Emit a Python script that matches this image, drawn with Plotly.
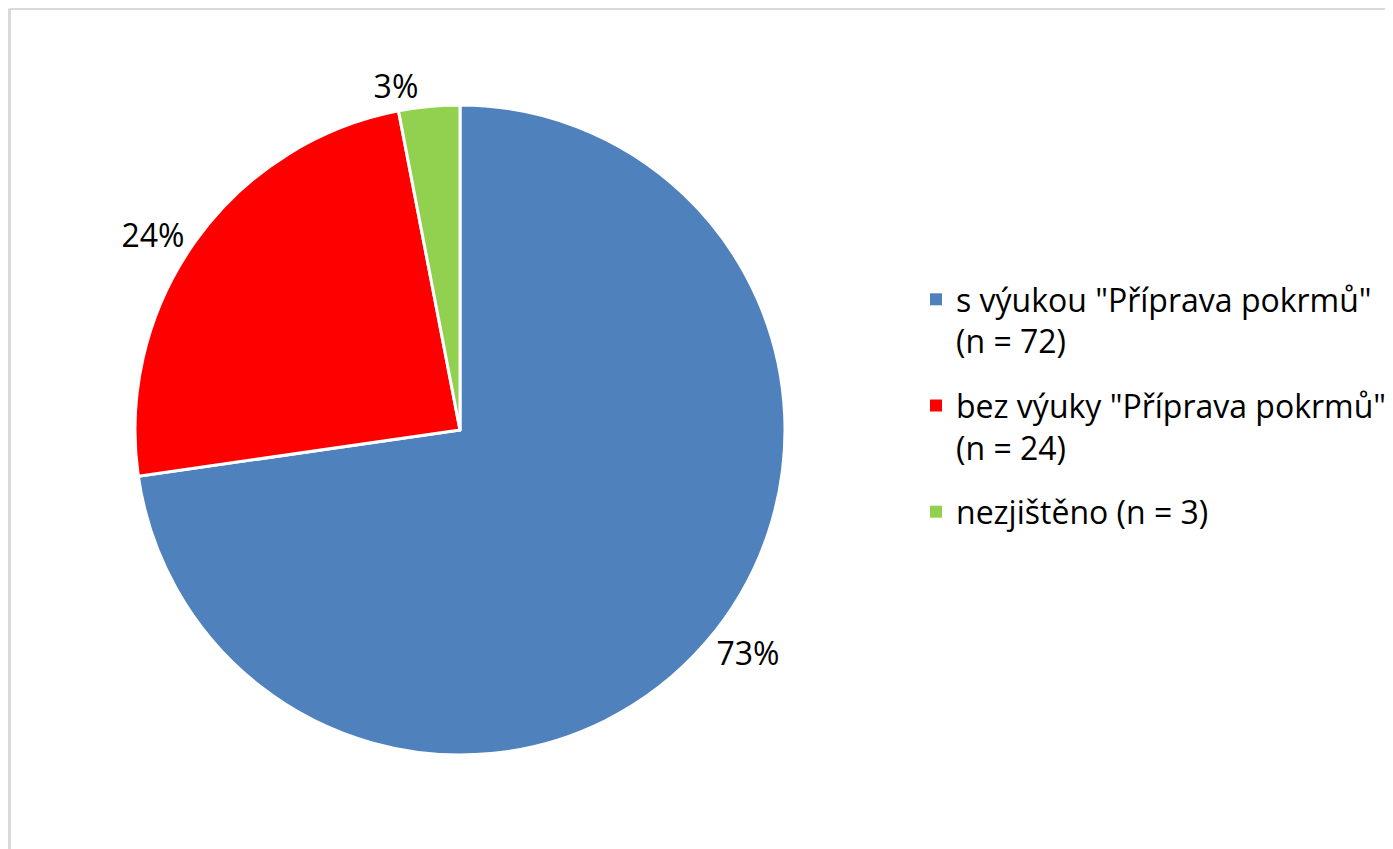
import plotly.graph_objects as go

labels = ['s výukou "Příprava pokrmů"<br>(n = 72)',
          'bez výuky "Příprava pokrmů"<br>(n = 24)',
          'nezjištěno (n = 3)']
counts = [72, 24, 3]
colors = ["#4F81BD", "#FF0000", "#92D050"]

W, H = 1393, 849
font = "Open Sans"
fsize = 32

fig = go.Figure()
fig.add_trace(go.Pie(
    labels=labels,
    values=counts,
    sort=False,
    direction="clockwise",
    rotation=0,
    marker=dict(colors=colors, line=dict(color="white", width=3)),
    texttemplate="%{percent:.0%}",
    textposition="outside",
    textfont=dict(size=fsize, color="#000000", family=font),
    domain=dict(x=[127 / W, 777 / W], y=[1 - 747 / H, 1 - 97 / H]),
    hoverinfo="label+value+percent",
    showlegend=False,
))

# legend entries (one per slice) so the gap between entries can be set
for lab, col in zip(labels, colors):
    fig.add_trace(go.Scatter(
        x=[None], y=[None], mode="markers", name=lab,
        marker=dict(symbol="square", size=12, color=col),
        legendgroup=lab, showlegend=True, hoverinfo="skip",
    ))

# light grey frame around the chart area (top and left edges visible)
fig.add_shape(type="line", xref="paper", yref="paper",
              x0=1.5 / W, x1=1.02, y0=1 - 0.5 / H, y1=1 - 0.5 / H,
              line=dict(color="#D9D9D9", width=3))
fig.add_shape(type="line", xref="paper", yref="paper",
              x0=1.5 / W, x1=1.5 / W, y0=-0.02, y1=1 - 0.5 / H,
              line=dict(color="#D9D9D9", width=3))

fig.update_xaxes(visible=False)
fig.update_yaxes(visible=False)
fig.update_layout(
    width=W, height=H,
    margin=dict(l=0, r=0, t=0, b=0),
    paper_bgcolor="white",
    plot_bgcolor="white",
    showlegend=True,
    legend=dict(
        x=908 / W, y=1 - 264 / H, xanchor="left", yanchor="top",
        font=dict(size=fsize, color="#000000", family=font),
        traceorder="grouped", tracegroupgap=20, valign="top",
        itemwidth=30,
    ),
)

fig.write_html("out.html")
